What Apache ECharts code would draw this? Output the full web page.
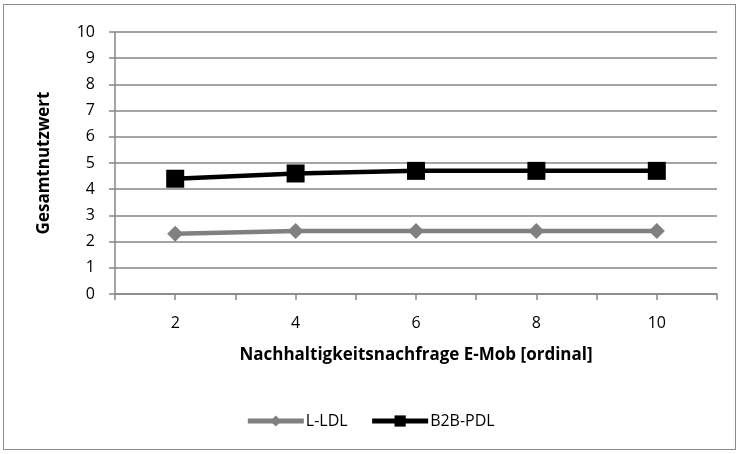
<!DOCTYPE html>
<html><head><meta charset="utf-8">
<script src="https://cdn.jsdelivr.net/npm/echarts@6/dist/echarts.min.js"></script>
<style>html,body{margin:0;padding:0;background:#fff}#frame{position:absolute;left:3px;top:4px;width:733px;height:446px;border:1px solid #8c8c8c;box-sizing:border-box}#c{width:740px;height:454px}</style>
</head><body><div id="c"></div><div id="frame"></div>
<script>
const xValues = [2, 4, 6, 8, 10];
const lldl = [2.3, 2.4, 2.4, 2.4, 2.4];
const b2bpdl = [4.4, 4.6, 4.7, 4.7, 4.7];
const seriesNames = ['L-LDL', 'B2B-PDL'];
const xTitle = 'Nachhaltigkeitsnachfrage E-Mob [ordinal]';
const yTitle = 'Gesamtnutzwert';
const font = 'Open Sans';
const chart = echarts.init(document.getElementById('c'));
chart.setOption({
  animation: false,
  grid: {left: 115, right: 23, top: 32, bottom: 160},
  legend: {
    top: 408, left: 'center', itemWidth: 56, itemHeight: 14, itemGap: 22,
    textStyle: {fontFamily: font, fontSize: 16, color: '#000', padding: [0, 0, 0, -3]},
    lineStyle: {width: 5},
    data: seriesNames
  },
  xAxis: {
    type: 'value', min: 1, max: 11, interval: 1,
    name: xTitle, nameLocation: 'middle', nameGap: 53,
    nameTextStyle: {fontFamily: font, fontWeight: 'bold', fontSize: 17, color: '#000'},
    axisLine: {lineStyle: {color: '#868686', width: 1.5}},
    axisTick: {show: true, length: 6, lineStyle: {color: '#868686', width: 1.5}},
    axisLabel: {fontFamily: font, fontSize: 16, color: '#000', margin: 21,
      formatter: v => (v % 2 === 0 ? String(v) : '')},
    splitLine: {show: false}
  },
  yAxis: {
    type: 'value', min: 0, max: 10, interval: 1,
    name: yTitle, nameLocation: 'middle', nameGap: 62, nameRotate: 90,
    nameTextStyle: {fontFamily: font, fontWeight: 'bold', fontSize: 17, color: '#000'},
    axisLine: {show: true, lineStyle: {color: '#868686', width: 1.5}},
    axisTick: {show: true, length: 6, lineStyle: {color: '#868686', width: 1.5}},
    axisLabel: {fontFamily: font, fontSize: 16, color: '#000', margin: 20},
    splitLine: {lineStyle: {color: '#868686', width: 1.5}}
  },
  series: [
    {name: seriesNames[0], type: 'line', data: xValues.map((x, i) => [x, lldl[i]]),
     symbol: 'diamond', symbolSize: 16, color: '#808080',
     lineStyle: {width: 4.5, color: '#808080'}, itemStyle: {color: '#808080'}},
    {name: seriesNames[1], type: 'line', data: xValues.map((x, i) => [x, b2bpdl[i]]),
     symbol: 'rect', symbolSize: 18, color: '#000',
     lineStyle: {width: 4.5, color: '#000'}, itemStyle: {color: '#000'}}
  ]
});
</script></body></html>
